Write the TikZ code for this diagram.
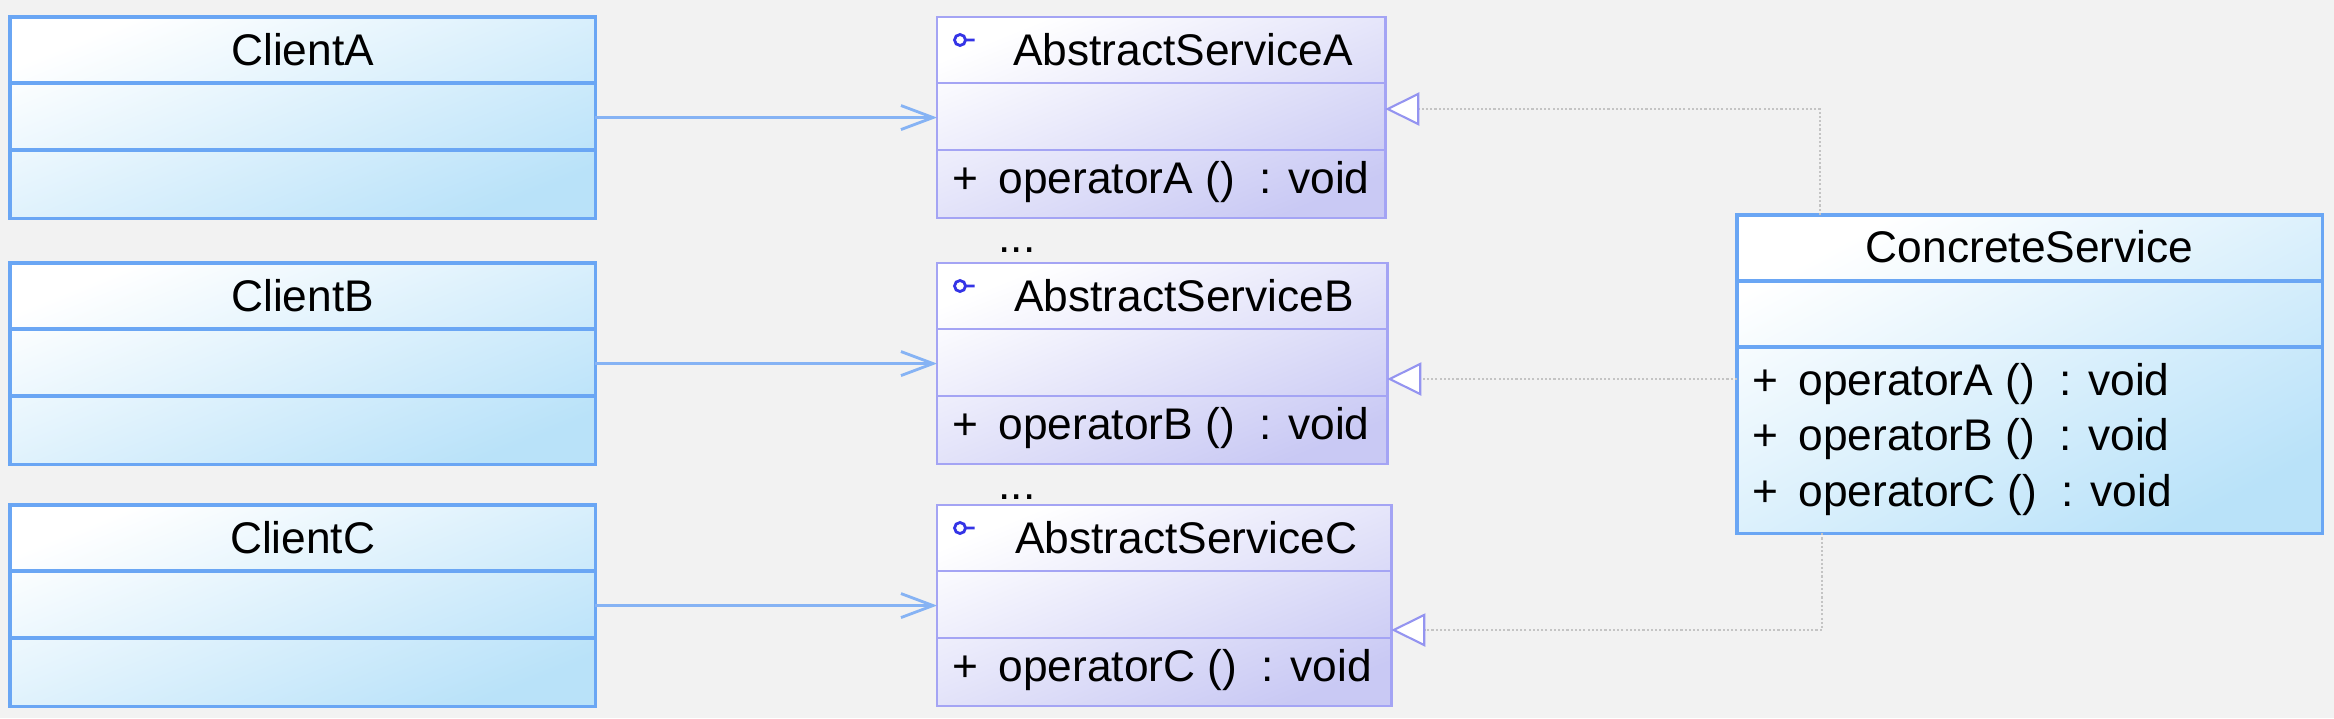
\documentclass[tikz,border=0pt]{standalone}
\usepackage{fontspec}
\setmainfont{Liberation Sans}
\usetikzlibrary{arrows.meta,calc}

\definecolor{canvas}{HTML}{F2F2F2}
\definecolor{clientline}{HTML}{6AA6F4}
\definecolor{clientfill}{HTML}{B9E2F9}
\definecolor{serviceline}{HTML}{A4A4F4}
\definecolor{servicefill}{HTML}{C9C9F4}
\definecolor{assocline}{HTML}{86B3F4}
\definecolor{triline}{HTML}{9494F0}
\definecolor{dotline}{HTML}{C4C4C4}
\definecolor{iconblue}{HTML}{3434E6}

\begin{document}
\begin{tikzpicture}[x=0.01cm,y=-0.01cm,
  every node/.style={font=\fontsize{12.6}{15}\selectfont,inner sep=0pt},
  uml box/.style={shade,top color=white,outer sep=0pt,anchor=north west},
  client/.style={uml box,draw=clientline,bottom color=clientfill,
    shading angle=22,line width=0.9pt},
  service/.style={uml box,draw=serviceline,bottom color=servicefill,
    shading angle=22,line width=0.7pt},
  assoc/.style={draw=assocline,line width=0.8pt,
    -{Straight Barb[length=0.32cm,width=0.24cm]}},
  realize/.style={draw=dotline,line width=0.6pt,dash pattern=on 0.6pt off 0.6pt,
    -{Triangle[length=0.34cm,width=0.33cm,color=triline,fill=white,line width=0.6pt]}}]
  \fill[canvas] (0,0) rectangle (2334,718);
  \useasboundingbox (0,0) rectangle (2334,718);

  \foreach \n/\top/\w/\tri in {A/17/4.48/92,B/263/4.50/116,C/505/4.54/125}{
    \node[client,minimum width=5.85cm,minimum height=2.01cm] (client \n) at (10,\top) {};
    \node[service,minimum width=\w cm,minimum height=2.01cm] (service \n) at (937,\top) {};
    \foreach \d in {66,133}{
      \draw[clientline,line width=0.9pt]
        ($(client \n.north west)+(0,\d)$) -- ($(client \n.north east)+(0,\d)$);
      \draw[serviceline,line width=0.7pt]
        ($(service \n.north west)+(0,\d)$) -- ($(service \n.north east)+(0,\d)$);
    }
    \node[anchor=base] at ($(client \n.north)+(0,48)$) {Client\n};
    \node[anchor=base] at ($(service \n.north)+(22,48)$) {AbstractService\n};
    \node[anchor=base west] at ($(service \n.north west)+(15,176)$)
      {+\hspace{0.45em}operator\n{} ()\ \ : void};
    \draw[iconblue,line width=0.8pt]
      ($(service \n.north west)+(23,23)$) circle[radius=5.5] ++(5.5,0) -- ++(9,0);
    \draw[assoc] (client \n.east) -- (service \n.west);
    \coordinate (tip \n) at ($(service \n.north east)+(0,\tri)$);
  }

  \node[anchor=base] (dots ab) at (1017,252) {...};
  \node[anchor=base] (dots bc) at (1017,499) {...};

  \node[client,shading angle=28,minimum width=5.85cm,minimum height=3.18cm]
    (concrete) at (1737,215) {};
  \foreach \d in {66,132}
    \draw[clientline,line width=0.9pt]
      ($(concrete.north west)+(0,\d)$) -- ($(concrete.north east)+(0,\d)$);
  \node[anchor=base] at ($(concrete.north)+(0,47)$) {ConcreteService};
  \foreach \m/\y in {A/180,B/235,C/291}
    \node[anchor=base west] at ($(concrete.north west)+(15,\y)$)
      {+\hspace{0.45em}operator\m{} ()\ \ : void};

  \draw[realize] ($(concrete.north west)+(83,0)$) |- (tip A);
  \draw[realize] (concrete.west |- tip B) -- (tip B);
  \draw[realize] ($(concrete.south west)+(85,0)$) |- (tip C);
\end{tikzpicture}
\end{document}
